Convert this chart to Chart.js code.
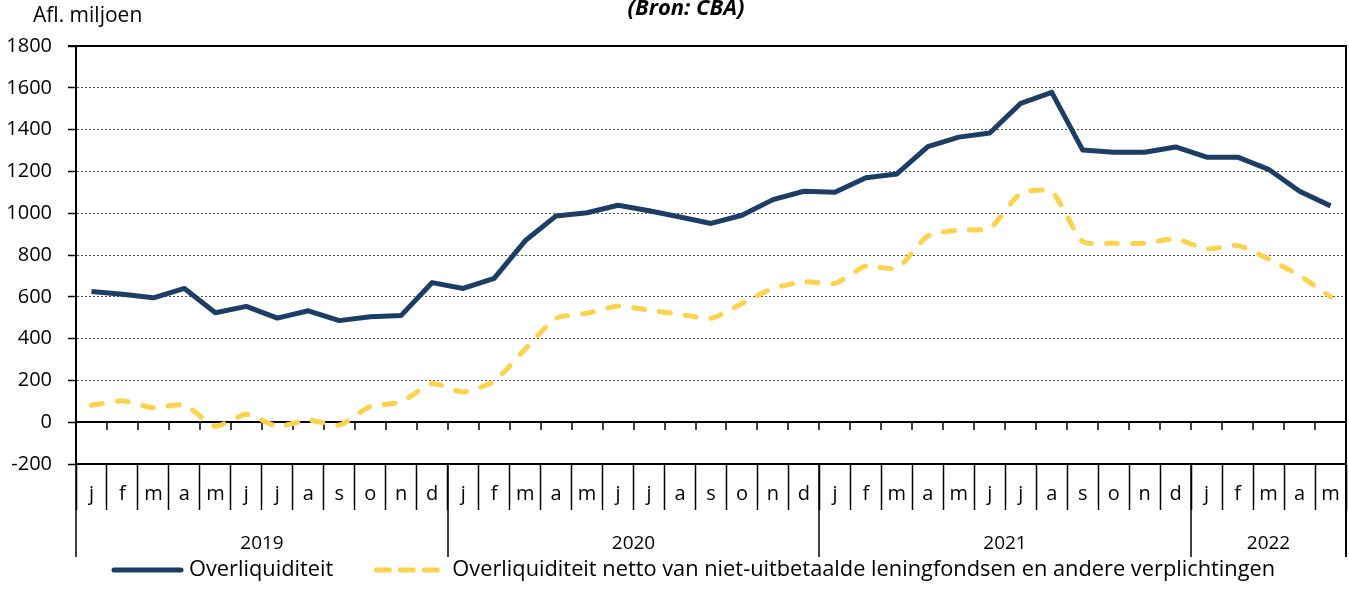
<!DOCTYPE html>
<html>
<head>
<meta charset="utf-8">
<script src="https://cdn.jsdelivr.net/npm/chart.js@4"></script>
<style>
  html, body { margin: 0; padding: 0; background: #fff; }
</style>
</head>
<body>
<canvas id="grafiek" width="1349" height="589"></canvas>
<script>
// maanden jan 2019 t/m mei 2022
const maanden = ['j','f','m','a','m','j','j','a','s','o','n','d',
                 'j','f','m','a','m','j','j','a','s','o','n','d',
                 'j','f','m','a','m','j','j','a','s','o','n','d',
                 'j','f','m','a','m'];
const jaren = ['2019', '2020', '2021', '2022'];
const maandenPerJaar = [12, 12, 12, 5];

const overliquiditeit = [625, 612, 595, 640, 524, 554, 498, 533, 486, 505, 511, 668,
                         640, 688, 868, 987, 1002, 1038, 1012, 982, 951, 990, 1065, 1105,
                         1100, 1170, 1188, 1319, 1364, 1384, 1526, 1578, 1302, 1292, 1292, 1317,
                         1268, 1268, 1210, 1105, 1035];
const overliqNetto = [81, 102, 69, 82, -19, 38, -19, 10, -14, 75, 97, 185,
                      145, 196, 350, 497, 521, 556, 536, 516, 497, 568, 640, 672,
                      664, 747, 736, 891, 920, 928, 1095, 1103, 864, 856, 856, 877,
                      829, 845, 781, 701, 600];

const yMin = -200, yMax = 1800, yStap = 200;

const FONT = '"Open Sans"';
const NAVY = '#1c3d66';
const GEEL = '#ffd24d';

const extraLijnen = {
  id: 'extraLijnen',
  beforeDatasetsDraw(chart) {
    const { ctx, chartArea: ca, scales: { x, y } } = chart;
    const y0 = Math.round(y.getPixelForValue(0));
    const half = (x.getPixelForValue(1) - x.getPixelForValue(0)) / 2;
    ctx.save();
    ctx.strokeStyle = '#000';
    // nullijn
    ctx.lineWidth = 2;
    ctx.beginPath();
    ctx.moveTo(ca.left, y0);
    ctx.lineTo(ca.right, y0);
    ctx.stroke();
    // streepjes onder de nullijn
    ctx.lineWidth = 1.5;
    for (let k = 1; k < maanden.length; k++) {
      const px = Math.round(x.getPixelForValue(k) - half);
      ctx.beginPath();
      ctx.moveTo(px, y0);
      ctx.lineTo(px, y0 + 8);
      ctx.stroke();
    }
    // kader boven en rechts
    ctx.lineWidth = 2;
    ctx.beginPath();
    ctx.moveTo(ca.left - 8, ca.top);
    ctx.lineTo(ca.right, ca.top);
    ctx.lineTo(ca.right, ca.bottom + 93);
    ctx.stroke();
    ctx.restore();
  },
  afterDraw(chart) {
    const { ctx, chartArea: ca, scales: { x } } = chart;
    const half = (x.getPixelForValue(1) - x.getPixelForValue(0)) / 2;
    ctx.save();
    ctx.strokeStyle = '#000';
    ctx.fillStyle = '#000';
    ctx.lineWidth = 1.5;
    ctx.font = '19px ' + FONT;
    ctx.textAlign = 'center';
    ctx.textBaseline = 'middle';
    // jaarscheidingen en jaartallen
    let start = 0;
    jaren.forEach((jaar, i) => {
      const eind = start + maandenPerJaar[i];
      const xa = Math.round(x.getPixelForValue(start) - half);
      const xb = Math.round(x.getPixelForValue(eind) - half);
      ctx.beginPath();
      ctx.moveTo(xa, ca.bottom);
      ctx.lineTo(xa, ca.bottom + 93);
      ctx.stroke();
      ctx.fillText(jaar, (xa + xb) / 2, ca.bottom + 80);
      start = eind;
    });

    // titels
    ctx.textAlign = 'left';
    ctx.textBaseline = 'alphabetic';
    ctx.font = '21px ' + FONT;
    ctx.fillText('Afl. miljoen', 33, 22);
    ctx.textAlign = 'center';
    ctx.font = 'italic bold 22px ' + FONT;
    ctx.fillText('(Bron: CBA)', 686, 15);

    // legenda
    const ly = 570;
    ctx.font = '21.8px ' + FONT;
    ctx.textAlign = 'left';
    ctx.textBaseline = 'middle';
    ctx.lineCap = 'round';
    ctx.lineWidth = 5;
    let lx = 114;
    ctx.strokeStyle = NAVY;
    ctx.beginPath();
    ctx.moveTo(lx, ly);
    ctx.lineTo(lx + 67, ly);
    ctx.stroke();
    lx += 75;
    const t1 = chart.data.datasets[0].label;
    ctx.fillText(t1, lx, ly);
    lx += ctx.measureText(t1).width + 43;
    ctx.strokeStyle = GEEL;
    ctx.setLineDash([13, 11]);
    ctx.beginPath();
    ctx.moveTo(lx, ly);
    ctx.lineTo(lx + 62, ly);
    ctx.stroke();
    ctx.setLineDash([]);
    lx += 76;
    ctx.fillText(chart.data.datasets[1].label, lx, ly);
    ctx.restore();
  }
};

const vast = v => v === yMin || v === 0 || v === yMax;

new Chart(document.getElementById('grafiek'), {
  type: 'line',
  data: {
    labels: maanden,
    datasets: [
      {
        label: 'Overliquiditeit',
        data: overliquiditeit,
        borderColor: NAVY,
        borderWidth: 5,
        borderJoinStyle: 'round',
        pointRadius: 0,
        tension: 0
      },
      {
        label: 'Overliquiditeit netto van niet-uitbetaalde leningfondsen en andere verplichtingen',
        data: overliqNetto,
        borderColor: GEEL,
        borderWidth: 5,
        borderDash: [11, 15],
        borderCapStyle: 'round',
        borderJoinStyle: 'round',
        pointRadius: 0,
        tension: 0.2
      }
    ]
  },
  options: {
    responsive: false,
    animation: false,
    layout: { padding: { top: 46, right: 3, left: 0, bottom: 0 } },
    plugins: {
      legend: { display: false },
      tooltip: { enabled: false }
    },
    scales: {
      x: {
        offset: true,
        grid: {
          offset: true,
          drawOnChartArea: false,
          drawTicks: true,
          tickLength: 46,
          tickColor: '#000',
          tickWidth: 1.5
        },
        border: { color: '#000', width: 2 },
        ticks: {
          autoSkip: false,
          maxRotation: 0,
          minRotation: 0,
          padding: -28,
          color: '#000',
          font: { family: FONT, size: 20 }
        },
        afterFit: s => { s.height = 125; }
      },
      y: {
        min: yMin,
        max: yMax,
        ticks: {
          stepSize: yStap,
          padding: 16,
          color: '#000',
          font: { family: FONT, size: 20 },
          callback: v => String(v)
        },
        grid: {
          color: c => vast(c.tick.value) ? 'rgba(0,0,0,0)' : '#555',
          lineWidth: 1,
          tickLength: 8,
          tickColor: '#000',
          tickWidth: 1.5
        },
        border: { color: '#000', width: 2, dash: [2, 2] },
        afterFit: s => { s.width = 76; }
      }
    }
  },
  plugins: [extraLijnen]
});
</script>
</body>
</html>
